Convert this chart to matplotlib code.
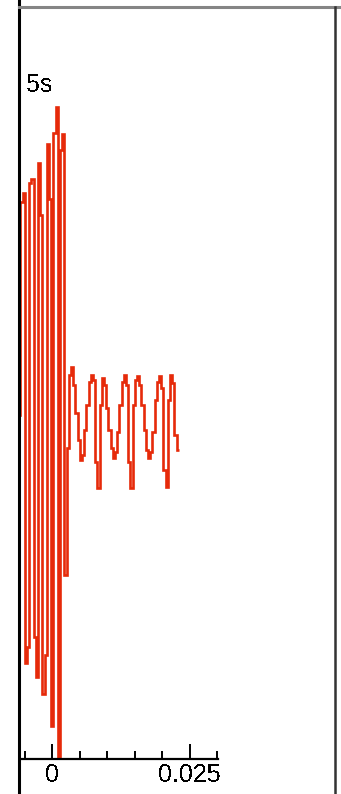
import numpy as np
import matplotlib
matplotlib.use('Agg')
import matplotlib.pyplot as plt
from matplotlib.lines import Line2D

plt.rcParams['font.family'] = ['Liberation Sans', 'DejaVu Sans']
plt.rcParams['text.antialiased'] = False

# sampled trace (stair plot), sample rate and start time
fs = 2500
t0 = -0.0062
signal = [17, 230, 239, -231, -215, 249, 253, -205, -245, 269,
          217, -262, -223, 288, 233, -294, 299, 325, -325, 282,
          298, -143, -16, 57, 65, 47, 19, -8, -28, -23,
          2, 27, 50, 57, 52, -30, -56, 27, 54, 47,
          24, 2, -16, -26, -20, 0, 27, 50, 57, 47,
          -30, -56, 27, 52, 56, 47, 27, 2, -18, -26,
          -20, 0, 32, 50, 56, 44, -38, -55, 32, 57,
          49, -3, -18]

major_ticks = [0, 0.025]
major_labels = ['0', '0.025']
minor_ticks = [-0.005, 0.005, 0.01, 0.015, 0.02, 0.03]
label_text = '5s'

W, H = 341, 794
fig = plt.figure(figsize=(W / 100, H / 100), dpi=100)
ax = fig.add_axes([19 / W, 0, (334.7 - 19) / W, (H - 6.7) / H])

edges = t0 + np.arange(len(signal) + 1) / fs
ax.stairs(signal, edges, baseline=None, color='#e62a0a', lw=1.9)

ax.set_xlim(-0.006055, 0.051345)
ax.set_ylim(432 - 794, 432 - 6.7)

for s in ['left', 'right', 'top']:
    ax.spines[s].set_visible(False)
ax.spines['bottom'].set_position(('data', 432 - 758.5))
ax.spines['bottom'].set_bounds(-0.0057, 0.0301)
ax.spines['bottom'].set_linewidth(1.6)

ax.set_yticks([])
ax.set_xticks(major_ticks)
ax.set_xticklabels(major_labels)
ax.set_xticks(minor_ticks, minor=True)
ax.tick_params(axis='x', which='major', direction='in', length=10.5, width=1.4,
               pad=3.5, labelsize=18)
ax.tick_params(axis='x', which='minor', direction='in', length=6, width=1.4)

ax.text(0.00004, 432 - 92, label_text, ha='right', va='baseline', fontsize=18,
        clip_on=True)

# outer frame
fig.add_artist(Line2D([19 / W, 19 / W], [0, 1], color='black', lw=2.2))
fig.add_artist(Line2D([19 / W, 1], [1 - 6.7 / H, 1 - 6.7 / H], color='#858585', lw=2.2))
fig.add_artist(Line2D([334.7 / W, 334.7 / W], [0, 1 - 6.7 / H], color='#333333', lw=1.8))

fig.savefig('out.png', dpi=100)
